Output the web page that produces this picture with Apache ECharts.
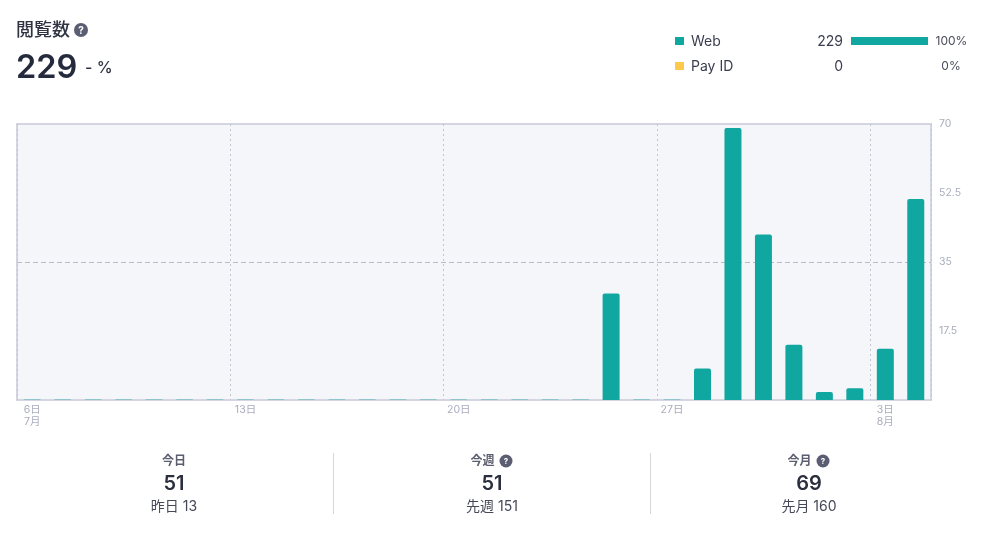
<!DOCTYPE html>
<html>
<head>
<meta charset="utf-8">
<style>html,body{margin:0;padding:0;background:#fff}#c{width:987px;height:535px}</style>
<script src="https://cdn.jsdelivr.net/npm/echarts@6/dist/echarts.min.js"></script>
</head>
<body>
<div id="c"></div>
<script>
const categories = ['6日\n7月','7日','8日','9日','10日','11日','12日','13日','14日','15日','16日','17日','18日','19日','20日','21日','22日','23日','24日','25日','26日','27日','28日','29日','30日','31日','1日','2日','3日\n8月','4日'];
const webValues = [0,0,0,0,0,0,0,0,0,0,0,0,0,0,0,0,0,0,0,27,0,0,8,69,42,14,2,3,13,51];
const payIdValues = [0,0,0,0,0,0,0,0,0,0,0,0,0,0,0,0,0,0,0,0,0,0,0,0,0,0,0,0,0,0];
const legendRows = [
  {name:'Web', total:'229', share:'100%', color:'#10a7a0', fill:1},
  {name:'Pay ID', total:'0', share:'0%', color:'#fec84b', fill:0}
];
const statBlocks = [
  {title:'今日', value:'51', sub:'昨日 13', help:false},
  {title:'今週', value:'51', sub:'先週 151', help:true},
  {title:'今月', value:'69', sub:'先月 160', help:true}
];
const FONT = "Inter, 'Noto Sans CJK JP', sans-serif";
const chart = echarts.init(document.getElementById('c'), null, {renderer:'canvas'});

function txt(x,y,text,size,color,weight,align){
  return {type:'text',x:x,y:y,silent:true,style:{text:text,font:(weight||400)+' '+size+'px '+FONT,fill:color,textAlign:align||'left',textVerticalAlign:'middle'}};
}
function help(x,y,r,size){
  return [
    {type:'circle',silent:true,shape:{cx:x,cy:y,r:r},style:{fill:'#5b5e72'}},
    txt(x,y+0.5,'?',size,'#ffffff',700,'center')
  ];
}
let g = [];
g.push(txt(16,30.5,'閲覧数',18,'#2f3342',500));
g.push(...help(81,30,7,10));
g.push(txt(16,68,'229',32.5,'#252a3c',600));
g.push(txt(85,68.5,'- %',16,'#2f3342',500));
legendRows.forEach((r,i)=>{
  const y = 41 + i*25;
  g.push({type:'rect',silent:true,shape:{x:675,y:y-4,width:9,height:8},style:{fill:r.color}});
  g.push(txt(691,y+1,r.name,14,'#3a3d4d',400));
  g.push(txt(843,y+1,r.total,14,'#3a3d4d',400,'right'));
  if(r.fill>0) g.push({type:'rect',silent:true,shape:{x:851,y:y-4,width:77*r.fill,height:8},style:{fill:r.color}});
  g.push(txt(i===0?951.5:951,y,r.share,12,'#4a4d5c',400,'center'));
});
const cx = [174,492,809];
statBlocks.forEach((s,i)=>{
  const tx = cx[i] + (s.help?-9.5:0);
  g.push(txt(tx,461.5,s.title,12,'#5b5e6f',600,'center'));
  if(s.help) g.push(...help(cx[i]+14,461,6.5,8));
  g.push(txt(cx[i],484,s.value,20,'#2a2e3d',600,'center'));
  g.push(txt(cx[i],507,s.sub,14,'#454857',400,'center'));
});
[333.5,650.5].forEach(x=>g.push({type:'line',silent:true,shape:{x1:x,y1:453,x2:x,y2:514},style:{stroke:'#d5d6da',lineWidth:1}}));

chart.setOption({
  animation:false,
  textStyle:{fontFamily:FONT},
  grid:{left:17,right:56,top:124,bottom:135,show:true,backgroundColor:'#f5f6f9',borderColor:'#d3d5e0',borderWidth:2,containLabel:false},
  xAxis:{
    type:'category',data:categories,boundaryGap:true,
    axisLine:{show:false},axisTick:{show:false},
    axisLabel:{interval:i=>i%7===0,color:'#a9acbd',fontSize:10.5,lineHeight:12,margin:4,align:'center',verticalAlign:'top'},
    splitLine:{show:true,interval:i=>i%7===0,lineStyle:{color:'#c2c4d0',type:[2,3],width:1}}
  },
  yAxis:[
    {type:'value',position:'right',min:0,max:70,interval:17.5,
      axisLine:{show:false},axisTick:{show:false},splitLine:{show:false},
      axisLabel:{showMinLabel:false,color:'#a9acbd',fontSize:10.5,margin:8,lineHeight:14,padding:[4,0,0,0]}},
    {type:'value',position:'right',min:0,max:70,interval:35,
      axisLine:{show:false},axisTick:{show:false},axisLabel:{show:false},
      splitLine:{show:true,showMinLine:false,showMaxLine:false,lineStyle:{color:'#b9bbc6',type:[5,3],width:1}}}
  ],
  series:[
    {name:'Web',type:'bar',stack:'t',data:webValues.map(v=>v===0?{value:0,itemStyle:{opacity:0.35}}:v),barWidth:17,barMinHeight:1,yAxisIndex:0,z:3,
      itemStyle:{color:'#10a7a0',borderRadius:[2,2,0,0]}},
    {name:'Pay ID',type:'bar',stack:'t',data:payIdValues,barWidth:17,yAxisIndex:0,z:2,
      itemStyle:{color:'#fec84b'}}
  ],
  graphic:{elements:g}
});
</script>
</body>
</html>
